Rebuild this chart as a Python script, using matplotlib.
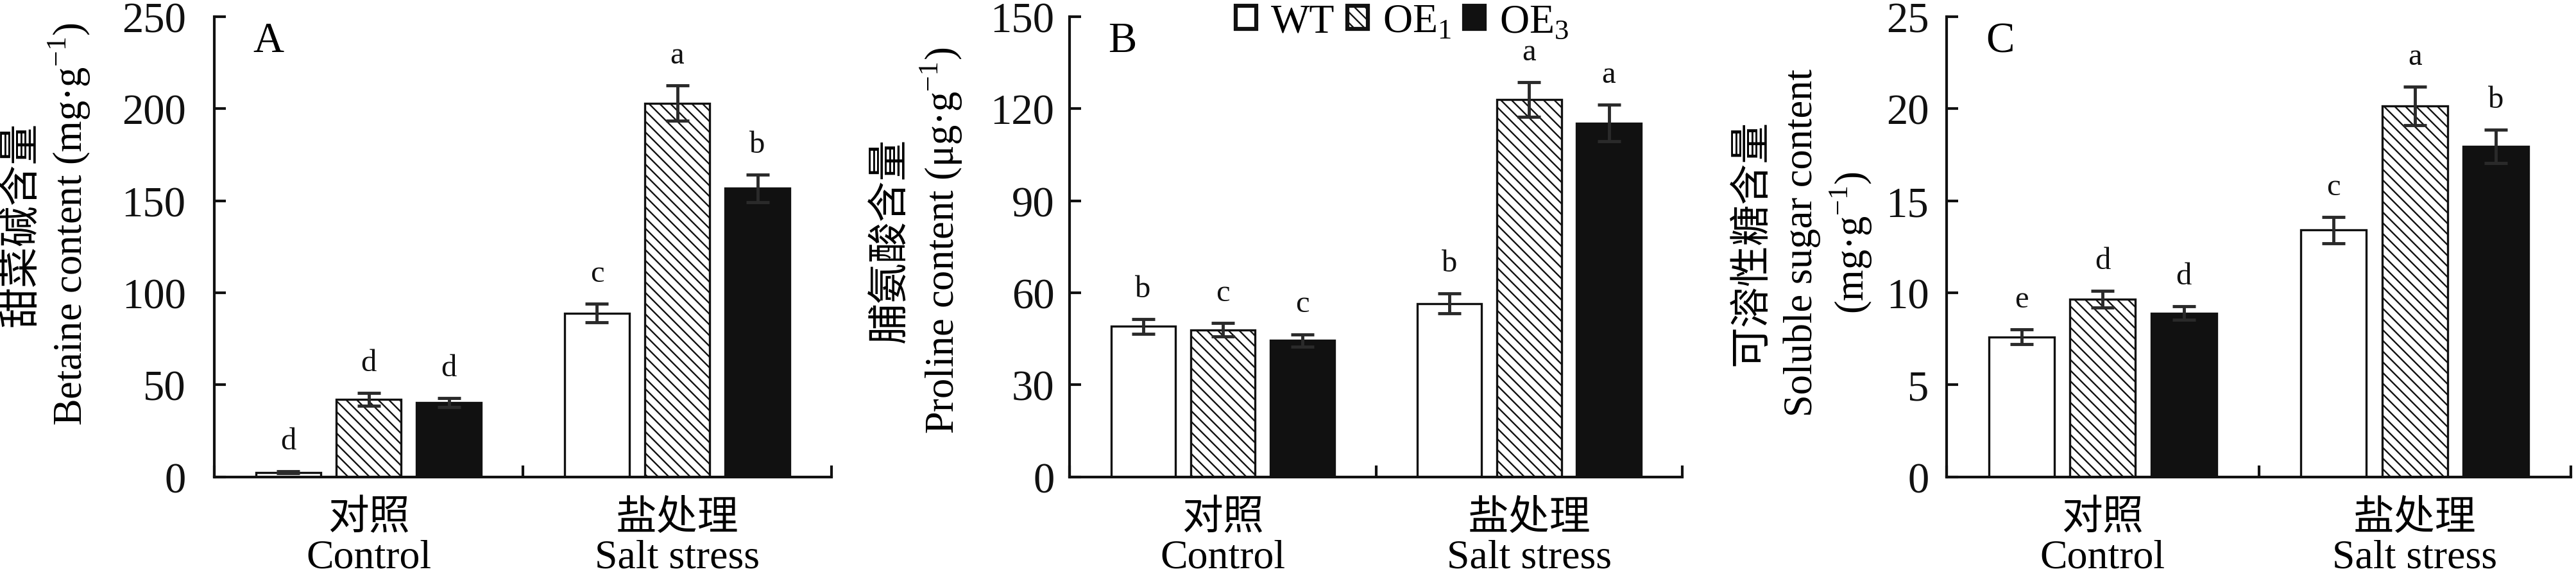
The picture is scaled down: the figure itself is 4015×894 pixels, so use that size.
import numpy as np
import matplotlib.pyplot as plt
from matplotlib.patches import Patch
from matplotlib.transforms import blended_transform_factory

plt.rcParams['font.family'] = ['Liberation Serif', 'Noto Sans CJK SC']
plt.rcParams['mathtext.fontset'] = 'custom'
plt.rcParams['mathtext.rm'] = 'Liberation Serif'
plt.rcParams['hatch.linewidth'] = 1.7

genotypes = ["WT", r"OE$_\mathregular{1}$", r"OE$_\mathregular{3}$"]
groups_cn = ["对照", "盐处理"]
groups_en = ["Control", "Salt stress"]

# 甜菜碱 (A)
betaine = {"WT": [2.4, 89], "OE1": [42, 203], "OE3": [40.4, 156.8]}
betaine_err = {"WT": [0.5, 5], "OE1": [3.5, 9.5], "OE3": [2.5, 7.5]}
betaine_sig = {"WT": ["d", "c"], "OE1": ["d", "a"], "OE3": ["d", "b"]}

# 脯氨酸 (B)
proline = {"WT": [49.1, 56.5], "OE1": [47.9, 123], "OE3": [44.5, 115.3]}
proline_err = {"WT": [2.4, 3.2], "OE1": [2.2, 5.6], "OE3": [2.0, 6.0]}
proline_sig = {"WT": ["b", "b"], "OE1": ["c", "a"], "OE3": ["c", "a"]}

# 可溶性糖 (C)
sugar = {"WT": [7.6, 13.4], "OE1": [9.65, 20.15], "OE3": [8.9, 17.95]}
sugar_err = {"WT": [0.4, 0.7], "OE1": [0.45, 1.05], "OE3": [0.38, 0.9]}
sugar_sig = {"WT": ["e", "c"], "OE1": ["d", "a"], "OE3": ["d", "b"]}

keys = ["WT", "OE1", "OE3"]
styles = {
    "WT": dict(facecolor="white", hatch=None),
    "OE1": dict(facecolor="white", hatch="\\\\"),
    "OE3": dict(facecolor="#111111", hatch=None),
}

panels = [
    dict(vals=betaine, err=betaine_err, sig=betaine_sig, ymax=250, step=50, tag="A",
         ylab=["甜菜碱含量", r"Betaine content (mg·g$^{-1}$)"],
         pos=[0.0832, 0.169, 0.2396, 0.801], labx=[-0.31, -0.235], laby=0.55, pad=32),
    dict(vals=proline, err=proline_err, sig=proline_sig, ymax=150, step=30, tag="B",
         ylab=["脯氨酸含量", r"Proline content (μg·g$^{-1}$)"],
         pos=[0.4152, 0.169, 0.2379, 0.801], labx=[-0.29, -0.209], laby=0.515, pad=17),
    dict(vals=sugar, err=sugar_err, sig=sugar_sig, ymax=25, step=5, tag="C",
         ylab=["可溶性糖含量", "Soluble sugar content", r"(mg·g$^{-1}$)"],
         pos=[0.7557, 0.169, 0.2423, 0.801], labx=[-0.31, -0.232, -0.153], laby=0.51,
         pad=20),
]

centers = np.array([0.5, 1.5])
offsets = [-0.26, 0.0, 0.26]
width = 0.21

fig = plt.figure(figsize=(40.15, 8.95), dpi=100)

for p in panels:
    ax = fig.add_axes(p["pos"])
    for k, off in zip(keys, offsets):
        ax.bar(centers + off, p["vals"][k], width, edgecolor="#111111",
               linewidth=2.4, zorder=2, **styles[k])
        ax.errorbar(centers + off, p["vals"][k], yerr=p["err"][k], fmt="none",
                    ecolor="#2a2a2a", elinewidth=3.5, capsize=13, capthick=3.5, zorder=3)
        for x, v, e, s in zip(centers + off, p["vals"][k], p["err"][k], p["sig"][k]):
            ax.text(x, v + e + p["ymax"] * 0.035, s, ha="center", va="bottom",
                    fontsize=35, color="#111111")

    ax.set_xlim(0, 2)
    ax.set_ylim(0, p["ymax"])
    ax.set_yticks(np.arange(0, p["ymax"] + 1, p["step"]))
    ax.set_xticks([0, 1, 2])
    ax.set_xticklabels([])
    ax.tick_params(axis="both", direction="in", length=13, width=3, labelsize=48,
                   colors="#111111")
    ax.tick_params(axis="y", pad=p["pad"])
    for s in ["top", "right"]:
        ax.spines[s].set_visible(False)
    for s in ["left", "bottom"]:
        ax.spines[s].set_linewidth(3)
        ax.spines[s].set_color("#111111")

    tr = blended_transform_factory(ax.transData, ax.transAxes)
    for c, cn, en in zip(centers, groups_cn, groups_en):
        ax.text(c, -0.113, cn, transform=tr, ha="center", va="baseline", fontsize=46)
        ax.text(c, -0.196, en, transform=tr, ha="center", va="baseline", fontsize=46)

    ax.text(0.063, 0.99, p["tag"], transform=ax.transAxes, ha="left", va="top",
            fontsize=48)

    for i, (line, lx) in enumerate(zip(p["ylab"], p["labx"])):
        fs = 46 if i == 0 else 45
        ax.text(lx, p["laby"], line, transform=ax.transAxes, rotation=90,
                ha="center", va="center", fontsize=fs)

    if p["tag"] == "B":
        handles = [Patch(edgecolor="#111111", linewidth=4.5, **styles[k]) for k in keys]
        ax.legend(handles, genotypes, loc="upper center", bbox_to_anchor=(0.543, 1.028),
                  ncol=3, frameon=False, fontsize=46, handlelength=0.5,
                  handleheight=0.5, handletextpad=0.35, columnspacing=0.32,
                  borderaxespad=0, borderpad=0)

fig.savefig("out.png", dpi=100)
